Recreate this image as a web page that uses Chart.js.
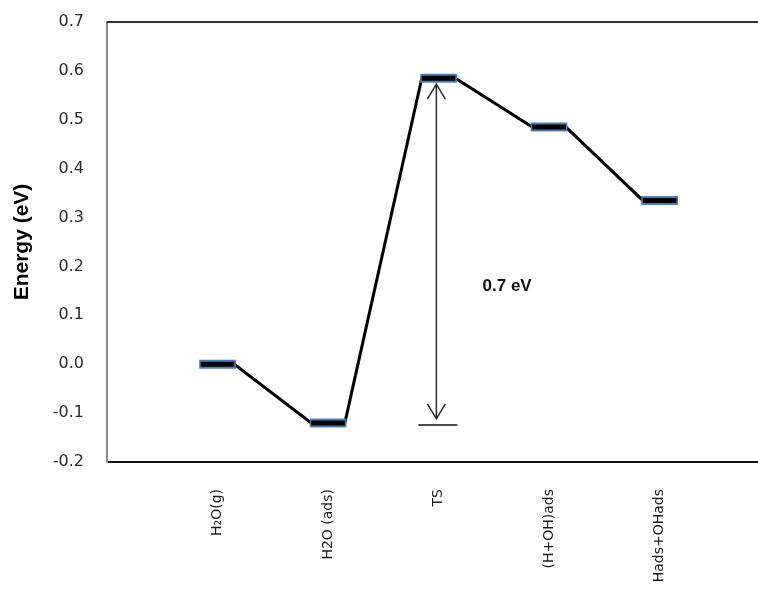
<!DOCTYPE html>
<html>
<head>
<meta charset="utf-8">
<script src="https://cdn.jsdelivr.net/npm/chart.js@4.4.1/dist/chart.umd.min.js"></script>
<style>
  html, body { margin: 0; padding: 0; background: #fff; }
  #wrap { width: 758px; height: 591px; position: relative; }
</style>
</head>
<body>
<div id="wrap"><canvas id="energyChart"></canvas></div>
<script>
// reaction steps and their energies (eV)
const stages = ['H\u2082O(g)', 'H2O (ads)', 'TS', '(H+OH)ads', 'Hads+OHads'];
const energies = [0.0, -0.12, 0.585, 0.485, 0.335];
const barrierText = '0.7 eV';

const yMin = -0.2, yMax = 0.7, yStep = 0.1;

// half widths of the level plateaus, in x units
const levelHalf = 0.152;
const edgeHalf = 0.166;

function levelPoints(half) {
  const pts = [];
  energies.forEach(function(e, i) {
    if (i > 0) pts.push({ x: i + 0.5, y: null });
    pts.push({ x: i + 1 - half, y: e });
    pts.push({ x: i + 1 + half, y: e });
  });
  return pts;
}

const pathPoints = [];
energies.forEach(function(e, i) {
  pathPoints.push({ x: i + 1 - levelHalf, y: e });
  pathPoints.push({ x: i + 1 + levelHalf, y: e });
});

// top frame line, barrier arrow and its label
const extras = {
  id: 'extras',
  afterDatasetsDraw: function(chart) {
    const ctx = chart.ctx;
    const area = chart.chartArea;
    const xs = chart.scales.x, ys = chart.scales.y;

    ctx.save();
    ctx.strokeStyle = '#333';
    ctx.lineWidth = 2;
    ctx.beginPath();
    ctx.moveTo(area.left, area.top);
    ctx.lineTo(area.right, area.top);
    ctx.stroke();

    const ax = xs.getPixelForValue(2.98);
    const topTip = ys.getPixelForValue(energies[2]) + 6;
    const base = ys.getPixelForValue(energies[1]) + 2;
    const botTip = base - 6;

    ctx.strokeStyle = '#2a2a2a';
    ctx.lineWidth = 1.5;
    ctx.beginPath();
    ctx.moveTo(ax, topTip);
    ctx.lineTo(ax, botTip);
    // heads
    ctx.moveTo(ax - 9, topTip + 15);
    ctx.lineTo(ax, topTip);
    ctx.lineTo(ax + 9, topTip + 15);
    ctx.moveTo(ax - 9, botTip - 15);
    ctx.lineTo(ax, botTip);
    ctx.lineTo(ax + 9, botTip - 15);
    ctx.stroke();

    ctx.strokeStyle = '#111';
    ctx.lineWidth = 1.5;
    ctx.beginPath();
    ctx.moveTo(ax - 18, base);
    ctx.lineTo(ax + 21, base);
    ctx.stroke();

    ctx.fillStyle = '#111';
    ctx.font = 'bold 17px "Liberation Sans", Arial, sans-serif';
    ctx.textAlign = 'center';
    ctx.textBaseline = 'middle';
    ctx.fillText(barrierText, xs.getPixelForValue(3.62), ys.getPixelForValue(0.16));
    ctx.restore();
  }
};

new Chart(document.getElementById('energyChart'), {
  type: 'line',
  data: {
    datasets: [{
      data: levelPoints(levelHalf),
      borderColor: '#000',
      borderWidth: 5,
      borderCapStyle: 'butt',
      spanGaps: false,
      pointRadius: 0
    }, {
      data: levelPoints(edgeHalf),
      borderColor: '#4a7ebb',
      borderWidth: 9,
      borderCapStyle: 'butt',
      spanGaps: false,
      pointRadius: 0
    }, {
      data: pathPoints,
      borderColor: '#000',
      borderWidth: 3,
      pointRadius: 0,
      tension: 0
    }]
  },
  options: {
    responsive: true,
    maintainAspectRatio: false,
    animation: false,
    layout: { padding: { top: 22, left: 0, right: 0, bottom: 0 } },
    plugins: {
      legend: { display: false },
      tooltip: { enabled: false }
    },
    scales: {
      x: {
        type: 'linear',
        min: 0,
        max: 5.89,
        grid: { display: false, drawTicks: false },
        border: { display: true, color: '#111', width: 2 },
        afterBuildTicks: function(scale) {
          scale.ticks = stages.map(function(s, i) { return { value: i + 1 }; });
        },
        afterFit: function(scale) {
          scale.height = 129;
          scale.paddingLeft = 0;
          scale.paddingRight = 0;
        },
        ticks: {
          autoSkip: false,
          minRotation: 90,
          maxRotation: 90,
          padding: 27,
          color: '#1a1a1a',
          font: { family: '"DejaVu Sans"', size: 14 },
          callback: function(v) { return stages[v - 1]; }
        }
      },
      y: {
        min: yMin,
        max: yMax,
        grid: { display: false, drawTicks: false },
        border: { display: true, color: '#8a8a8a', width: 2 },
        afterFit: function(scale) {
          scale.width = 107;
          scale.paddingTop = 0;
          scale.paddingBottom = 0;
        },
        ticks: {
          stepSize: yStep,
          padding: 23,
          color: '#2b2b2b',
          font: { family: '"DejaVu Sans"', size: 16 },
          callback: function(v) { return Math.abs(v) < 1e-9 ? '0.0' : v.toFixed(1); }
        },
        title: {
          display: true,
          text: 'Energy (eV)',
          color: '#000',
          padding: { top: 10, bottom: 0 },
          font: { family: '"Liberation Sans", Arial, sans-serif', size: 21, weight: 'bold' }
        }
      }
    }
  },
  plugins: [extras]
});
</script>
</body>
</html>
